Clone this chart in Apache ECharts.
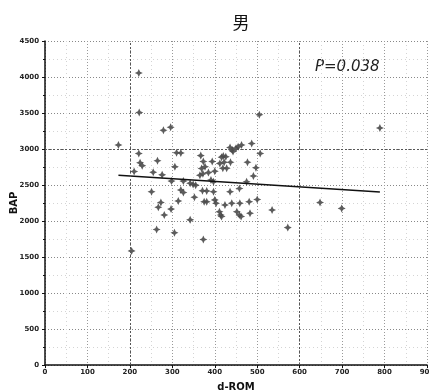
<!DOCTYPE html>
<html>
<head>
<meta charset="utf-8">
<script src="https://cdn.jsdelivr.net/npm/echarts@6/dist/echarts.min.js"></script>
<style>
  html, body { margin: 0; padding: 0; background: #fff; }
  #chart { width: 429px; height: 391px; }
</style>
</head>
<body>
<div id="chart"></div>
<script>
// d-ROM values (x) and BAP values (y) for each subject
const dROM = [
  221, 222, 505, 789, 279, 296, 173, 221, 224, 229,
  210, 265, 255, 276, 306, 310, 320, 298, 326, 367,
  373, 394, 369, 377, 365, 372, 385, 400, 391, 342,
  349, 355, 371, 381, 251, 320, 326, 352, 375, 314,
  273, 267, 297, 281, 342, 263, 305, 373, 204, 420,
  426, 416, 443, 507, 436, 441, 450, 455, 463, 487,
  422, 437, 412, 477, 419, 497, 491, 475, 397, 397,
  436, 458, 381, 400, 403, 424, 440, 459, 481, 500,
  411, 414, 416, 452, 458, 462, 483, 535, 572, 648,
  699, 428
];
const BAP = [
  4056, 3507, 3477, 3292, 3261, 3302, 3056, 2938, 2810, 2769,
  2687, 2836, 2677, 2641, 2754, 2949, 2944, 2554, 2554, 2908,
  2826, 2826, 2728, 2754, 2636, 2657, 2672, 2692, 2569, 2523,
  2508, 2498, 2421, 2416, 2405, 2431, 2395, 2329, 2267, 2277,
  2257, 2190, 2165, 2083, 2016, 1883, 1837, 1744, 1585, 2903,
  2892, 2887, 2964, 2938, 3020, 2985, 3010, 3031, 3056, 3077,
  2815, 2815, 2800, 2815, 2733, 2739, 2626, 2544, 2544, 2405,
  2405, 2452, 2267, 2293, 2247, 2221, 2247, 2247, 2267, 2298,
  2129, 2083, 2062, 2129, 2083, 2062, 2108, 2154, 1908, 2257,
  2175, 2733
];

// fitted trend line endpoints
const trendX = [173, 789];
const trendY = [2635, 2404];

const xTicks = [0, 100, 200, 300, 400, 500, 600, 700, 800, 900];
const yTicks = [0, 500, 1000, 1500, 2000, 2500, 3000, 3500, 4000, 4500];

const titleText = '男';
const xName = 'd-ROM';
const yName = 'BAP';
const pText = 'P=0.038';

const points = dROM.map((x, i) => [x, BAP[i]]);
const trend = trendX.map((x, i) => [x, trendY[i]]);

const chart = echarts.init(document.getElementById('chart'), null, { renderer: 'canvas' });

const tickFont = { fontFamily: 'DejaVu Sans', fontSize: 7, fontWeight: 'bold', color: '#222' };
const plain = v => String(v);

chart.setOption({
  animation: false,
  backgroundColor: '#fff',
  title: {
    text: titleText,
    left: 236,
    top: 9,
    textAlign: 'center',
    textStyle: { fontFamily: 'Noto Sans CJK SC', fontSize: 17, fontWeight: 'normal', color: '#111' }
  },
  grid: { left: 45, right: 2, top: 41, bottom: 26, containLabel: false, outerBoundsMode: 'none' },
  xAxis: {
    type: 'value',
    min: xTicks[0],
    max: xTicks[xTicks.length - 1],
    interval: 100,
    name: xName,
    nameLocation: 'middle',
    nameGap: 17,
    nameMoveOverlap: false,
    nameTextStyle: { fontFamily: 'DejaVu Sans', fontSize: 10, fontWeight: 'bold', color: '#111' },
    axisLine: { show: true, lineStyle: { color: '#111', width: 1.5 } },
    axisTick: { show: true, length: 3, lineStyle: { color: '#111' } },
    axisLabel: Object.assign({ margin: 4, showMaxLabel: true, formatter: plain }, tickFont),
    splitLine: { show: true, lineStyle: { color: '#999', type: [1, 2], width: 1 } },
    minorTick: { show: false, splitNumber: 2 },
    minorSplitLine: { show: true, lineStyle: { color: '#d4d4d4', type: [1, 3], width: 1 } }
  },
  yAxis: {
    type: 'value',
    min: yTicks[0],
    max: yTicks[yTicks.length - 1],
    interval: 500,
    name: yName,
    nameLocation: 'middle',
    nameGap: 26,
    nameRotate: 90,
    nameMoveOverlap: false,
    nameTextStyle: { fontFamily: 'DejaVu Sans', fontSize: 10, fontWeight: 'bold', color: '#111' },
    axisLine: { show: true, lineStyle: { color: '#111', width: 1.5 } },
    axisTick: { show: true, length: 3, lineStyle: { color: '#111' } },
    minorTick: { show: true, splitNumber: 2, length: 2, lineStyle: { color: '#111' } },
    axisLabel: Object.assign({ margin: 6, formatter: plain }, tickFont),
    splitLine: { show: true, lineStyle: { color: '#888', type: [1, 2], width: 1 } },
    minorSplitLine: { show: true, lineStyle: { color: '#d4d4d4', type: [1, 3], width: 1 } }
  },
  graphic: [
    {
      type: 'text',
      left: 315,
      top: 60,
      style: {
        text: pText,
        fontFamily: 'DejaVu Sans',
        fontStyle: 'italic',
        fontSize: 15,
        fill: '#222'
      }
    }
  ],
  series: [
    {
      type: 'scatter',
      data: points,
      symbol: 'path://M0,-5 L1.6,-1.6 L5,0 L1.6,1.6 L0,5 L-1.6,1.6 L-5,0 L-1.6,-1.6 Z',
      symbolSize: 8,
      itemStyle: { color: '#4a4a4a', opacity: 0.9 },
      z: 3,
      markLine: {
        silent: true,
        symbol: 'none',
        label: { show: false },
        lineStyle: { color: '#555', type: [2, 2], width: 1 },
        data: [{ xAxis: 200 }, { xAxis: 600 }, { yAxis: 3000 }]
      }
    },
    {
      type: 'line',
      data: trend,
      showSymbol: false,
      symbol: 'none',
      lineStyle: { color: '#111', width: 1.5 },
      z: 4
    }
  ]
});
</script>
</body>
</html>
